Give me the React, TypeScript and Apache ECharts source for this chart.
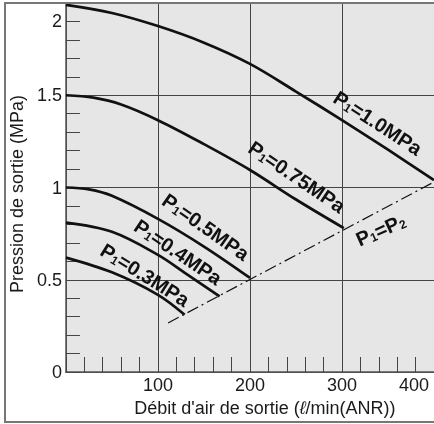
import React, { useEffect, useRef } from "react";
import * as echarts from "echarts";

// Outlet flow (l/min ANR) vs outlet pressure (MPa)
const curveP10 = [[0, 1.99], [50, 1.946], [100, 1.875], [150, 1.785], [200, 1.67], [250, 1.52], [300, 1.365], [350, 1.205], [400, 1.04]];
const curveP075 = [[0, 1.5], [30, 1.487], [60, 1.45], [100, 1.365], [150, 1.235], [200, 1.095], [250, 0.935], [302, 0.78]];
const curveP05 = [[0, 1.0], [25, 0.99], [50, 0.955], [100, 0.83], [150, 0.68], [200, 0.51]];
const curveP04 = [[0, 0.81], [50, 0.76], [100, 0.635], [130, 0.535], [167, 0.41]];
const curveP03 = [[0, 0.62], [50, 0.54], [100, 0.418], [129, 0.31]];
const lineP1eqP2 = [[111, 0.266], [400, 1.03]];

const xLabelValues = [100, 200, 300, 400];
const yLabelValues = [0, 0.5, 1, 1.5, 1.9];
const yLabelTexts = ["0", "0.5", "1", "1.5", "2"];

const curveLabels = [
  { text: "{p|P}{s|1}{p|=1.0MPa}", x: 339, y: 1.35, angle: -33 },
  { text: "{p|P}{s|1}{p|=0.75MPa}", x: 251, y: 1.057, angle: -34 },
  { text: "{p|P}{s|1}{p|=0.5MPa}", x: 152, y: 0.786, angle: -35 },
  { text: "{p|P}{s|1}{p|=0.4MPa}", x: 122, y: 0.65, angle: -34 },
  { text: "{p|P}{s|1}{p|=0.3MPa}", x: 86, y: 0.526, angle: -32 },
  { text: "{p|P}{s|1}{p|=P}{s|2}", x: 342, y: 0.77, angle: 24 },
];

const FONT = "'Liberation Sans', Arial, Helvetica, sans-serif";

export default function App() {
  const ref = useRef<HTMLDivElement>(null);
  useEffect(() => {
    if (!ref.current) return;
    const chart = echarts.init(ref.current, null, { renderer: "svg" });
    const curves = [curveP10, curveP075, curveP05, curveP04, curveP03];
    const option: any = {
      animation: false,
      textStyle: { fontFamily: FONT },
      grid: {
        left: 65, right: -2, top: 3, bottom: 52,
        show: true, backgroundColor: "#e6e6e6", borderWidth: 0,
      },
      xAxis: [
        {
          type: "value", min: 0, max: 400, interval: 20,
          axisLine: { show: true, lineStyle: { color: "#555", width: 1.5 } },
          axisTick: { show: true, inside: true, length: 15, lineStyle: { color: "#444", width: 1 } },
          axisLabel: {
            fontSize: 18, color: "#1a1a1a", margin: 4, fontFamily: FONT,
            formatter: (v: number) => {
              const i = xLabelValues.indexOf(Math.round(v));
              if (i < 0 || Math.abs(v - Math.round(v)) > 1e-6) return "";
              return i === xLabelValues.length - 1 ? "{r|" + v + "}" : String(v);
            },
            rich: { r: { fontSize: 18, color: "#1a1a1a", fontFamily: FONT, padding: [0, 40, 0, 0] } },
          },
          splitLine: { show: false },
          name: "Débit d'air de sortie ({i|ℓ}/min(ANR))",
          nameLocation: "middle", nameGap: 26,
          nameTextStyle: {
            fontSize: 18, color: "#1a1a1a", fontFamily: FONT, padding: [0, 0, 0, 30],
            rich: { i: { fontSize: 18, color: "#1a1a1a", fontFamily: FONT, fontStyle: "italic" } },
          },
        },
        {
          type: "value", min: 0, max: 400, interval: 100, position: "bottom",
          axisLine: { show: false }, axisTick: { show: false }, axisLabel: { show: false },
          splitLine: { show: true, lineStyle: { color: "#444", width: 1 } },
        },
      ],
      yAxis: [
        {
          type: "value", min: 0, max: 2, interval: 0.1,
          axisLine: { show: true, lineStyle: { color: "#555", width: 1.5 } },
          axisTick: { show: true, inside: true, length: 14, lineStyle: { color: "#444", width: 1 } },
          axisLabel: {
            fontSize: 18, color: "#1a1a1a", margin: 4, fontFamily: FONT,
            formatter: (v: number) => {
              for (let i = 0; i < yLabelValues.length; i++) {
                if (Math.abs(v - yLabelValues[i]) < 1e-6) return yLabelTexts[i];
              }
              return "";
            },
          },
          splitLine: { show: false },
          name: "Pression de sortie (MPa)",
          nameLocation: "middle", nameRotate: 90, nameGap: 32,
          nameTextStyle: { fontSize: 18, color: "#1a1a1a", fontFamily: FONT, padding: [0, 13, 0, 0] },
        },
        {
          type: "value", min: 0, max: 2, interval: 0.5, position: "left",
          axisLine: { show: false }, axisTick: { show: false }, axisLabel: { show: false },
          splitLine: { show: true, lineStyle: { color: "#444", width: 1 } },
        },
      ],
      series: [
        ...curves.map((data) => ({
          type: "line", data, xAxisIndex: 0, yAxisIndex: 0,
          smooth: 0.35, symbol: "none", silent: true,
          lineStyle: { color: "#111", width: 2.7 },
        })),
        {
          type: "line", data: lineP1eqP2, xAxisIndex: 0, yAxisIndex: 0,
          symbol: "none", silent: true,
          lineStyle: { color: "#111", width: 1.2, type: [12, 4, 2, 4] },
        },
      ],
    };
    chart.setOption(option);

    const rich = {
      p: { fontSize: 20, fontWeight: "bold", fontFamily: FONT, fill: "#111" },
      s: { fontSize: 12, fontWeight: "bold", fontFamily: FONT, fill: "#111", verticalAlign: "bottom" },
    };
    const labelGraphics = curveLabels.map((l) => {
      const pt = chart.convertToPixel({ seriesIndex: 0 }, [l.x, l.y]) as number[];
      return {
        type: "text", x: pt[0], y: pt[1], rotation: (l.angle * Math.PI) / 180, z: 100,
        style: { text: l.text, rich, align: "center", verticalAlign: "middle", fill: "#111", fontFamily: FONT, fontWeight: "bold", fontSize: 20 },
      };
    });
    chart.setOption({
      graphic: [
        { type: "rect", shape: { x: 5, y: 3, width: 440, height: 419 }, style: { fill: "none", stroke: "#777", lineWidth: 2 }, z: 100 },
        ...labelGraphics,
      ],
    });
    return () => chart.dispose();
  }, []);
  return <div ref={ref} style={{ position: "fixed", left: 0, top: 0, width: 434, height: 424 }} />;
}
